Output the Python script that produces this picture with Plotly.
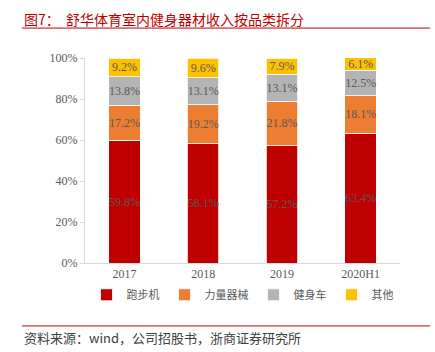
import plotly.graph_objects as go

categories = ["2017", "2018", "2019", "2020H1"]
series_names = ["跑步机", "力量器械", "健身车", "其他"]
treadmill = [59.8, 58.1, 57.2, 63.4]
strength = [17.2, 19.2, 21.8, 18.1]
bike = [13.8, 13.1, 13.1, 12.5]
other = [9.2, 9.6, 7.9, 6.1]
colors = ["#C00000", "#ED7D31", "#B4B4B4", "#FFC000"]
y_ticks = [0, 20, 40, 60, 80, 100]

serif = "Liberation Serif, Times New Roman, serif"
cjk = "Noto Sans CJK SC, sans-serif"

fig = go.Figure()
for name, vals, col in zip(series_names, [treadmill, strength, bike, other], colors):
    fig.add_trace(go.Bar(
        x=categories, y=vals, name=name,
        marker=dict(color=col, line=dict(color="white", width=0.8)),
        text=[f"{v:.1f}%" for v in vals], textposition="inside",
        insidetextanchor="middle", textangle=0, constraintext="none",
        textfont=dict(family=serif, size=12, color="#595959"),
        width=0.4,
    ))

fig.update_layout(
    barmode="stack",
    width=435, height=352,
    margin=dict(l=85, r=35, t=58, b=89),
    plot_bgcolor="white", paper_bgcolor="white",
    showlegend=True,
    legend=dict(orientation="h", x=0.5, xanchor="center", y=-0.155, yanchor="middle",
                font=dict(family=cjk, size=11, color="#595959"),
                itemwidth=30, traceorder="normal"),
    xaxis=dict(showline=True, linecolor="#D9D9D9", linewidth=1, ticks="",
               tickfont=dict(family=serif, size=12, color="#595959")),
    yaxis=dict(range=[0, 100], tickvals=y_ticks, ticktext=[f"{t}%" for t in y_ticks],
               showline=True, linecolor="#D9D9D9", linewidth=1, ticks="outside",
               ticklen=4, tickcolor="#D9D9D9", showgrid=False, zeroline=False,
               tickfont=dict(family=serif, size=12, color="#595959")),
)

fig.add_annotation(xref="paper", yref="paper", x=-0.2, y=1.19, xanchor="left", yanchor="middle",
                   text="图7：  舒华体育室内健身器材收入按品类拆分", showarrow=False,
                   font=dict(family=cjk, size=14, color="#C00000"))
fig.add_shape(type="line", xref="paper", yref="paper", x0=-0.2, x1=1.095, y0=1.146, y1=1.146,
              line=dict(color="#C00000", width=1))
fig.add_shape(type="line", xref="paper", yref="paper", x0=-0.2, x1=1.095, y0=-0.307, y1=-0.307,
              line=dict(color="#C00000", width=1))
fig.add_annotation(xref="paper", yref="paper", x=-0.2, y=-0.362, xanchor="left", yanchor="middle",
                   text="资料来源：wind，公司招股书，浙商证券研究所", showarrow=False,
                   font=dict(family=cjk, size=13, color="#404040"))

fig.write_html("out.html")
